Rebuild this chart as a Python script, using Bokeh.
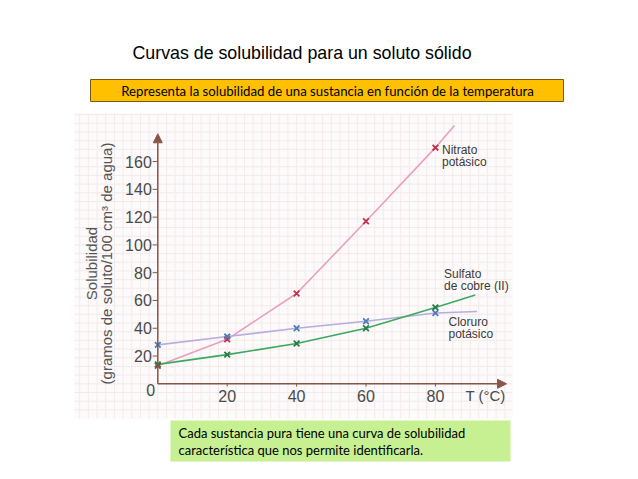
import numpy as np
from bokeh.plotting import figure
from bokeh.models import Range1d, Arrow, NormalHead
from bokeh.core.properties import value
from bokeh.embed import file_html
from bokeh.resources import INLINE

# ---------------- data ----------------
temps = [0, 20, 40, 60, 80]
nitrato = [13, 32, 65, 117, 170]
cloruro = [28, 34, 40, 45, 51]
sulfato = [14, 21, 29, 40, 55]
# drawn curves (the curves continue a little past the last measured point)
nitrato_curve_x = [0, 20, 40, 60, 80, 85.5]
nitrato_curve_y = [13, 32, 65, 117, 170, 186]
cloruro_curve_x = [0, 20, 40, 60, 80, 92]
cloruro_curve_y = [28, 34, 40, 45, 51, 52]
sulfato_curve_x = [0, 20, 40, 60, 80, 91.5]
sulfato_curve_y = [14, 21, 29, 40, 55, 64]
y_ticks = [20, 40, 60, 80, 100, 120, 140, 160]
x_ticks = [20, 40, 60, 80]

# ---------------- layout helpers (pixel -> data) ----------------
W, H = 638, 479
OX, OY = 157.3, 383.3          # pixel position of the origin
PPX, PPY = 3.47, 1.389         # pixels per data unit


def dx(px):
    return (px - OX) / PPX


def dy(py):
    return (OY - py) / PPY


p = figure(width=W, height=H, x_range=Range1d(dx(0), dx(W)), y_range=Range1d(dy(H), dy(0)),
           x_axis_type=None, y_axis_type=None, toolbar_location=None,
           output_backend="svg", min_border=0)
p.grid.visible = False
p.outline_line_color = None
p.background_fill_color = "white"
p.border_fill_color = "white"

SANS = value("Liberation Sans")
CAL = value("Lato")

# title
p.text(x=[dx(301.5)], y=[dy(52)], text=["Curvas de solubilidad para un soluto sólido"],
       text_font=SANS, text_font_size="17.8px", text_align="center", text_baseline="middle",
       text_color="black")

# yellow banner
p.quad(left=[dx(90)], right=[dx(563)], top=[dy(79)], bottom=[dy(101)],
       fill_color="#ffc000", line_color="#7a5a10", line_width=1)
p.text(x=[dx(327)], y=[dy(90.5)],
       text=["Representa la solubilidad de una sustancia en función de la temperatura"],
       text_font=CAL, text_font_size="13.2px", text_align="center", text_baseline="middle",
       text_color="black")

# picture area with graph-paper grid
p.quad(left=[dx(74)], right=[dx(512)], top=[dy(113)], bottom=[dy(418)],
       fill_color="#fcfafa", line_color=None)
gx = np.arange(-22.5, dx(512), 2.5)
gy = np.arange(-18.75, dy(113), 6.25)
p.segment(x0=gx, x1=gx, y0=dy(113), y1=dy(418), line_color="#f5eaea", line_width=1)
p.segment(x0=dx(74), x1=dx(512), y0=gy, y1=gy, line_color="#f5eaea", line_width=1)

# axes
AX = "#8a5548"
p.add_layout(Arrow(x_start=0, y_start=0, x_end=0, y_end=180, line_color=AX, line_width=1.5,
                   end=NormalHead(size=9, fill_color=AX, line_color=AX)))
p.add_layout(Arrow(x_start=0, y_start=0, x_end=100.5, y_end=0, line_color=AX, line_width=1.5,
                   end=NormalHead(size=9, fill_color=AX, line_color=AX)))
p.segment(x0=-1.5, x1=0, y0=y_ticks, y1=y_ticks, line_color=AX, line_width=1)
p.segment(x0=x_ticks, x1=x_ticks, y0=0, y1=-2, line_color=AX, line_width=1)

TICK_C = "#4a4a4a"
p.text(x=0, y=y_ticks, text=[str(v) for v in y_ticks], x_offset=-6,
       text_font=SANS, text_font_size="16px", text_align="right", text_baseline="middle",
       text_color=TICK_C)
p.text(x=x_ticks, y=0, text=[str(v) for v in x_ticks], y_offset=12,
       text_font=SANS, text_font_size="16px", text_align="center", text_baseline="middle",
       text_color=TICK_C)
p.text(x=[0], y=[0], text=["0"], x_offset=-7, y_offset=6,
       text_font=SANS, text_font_size="16px", text_align="center", text_baseline="middle",
       text_color=TICK_C)
p.text(x=[dx(485)], y=[0], text=["T (°C)"], y_offset=12,
       text_font=SANS, text_font_size="15px", text_align="center", text_baseline="middle",
       text_color=TICK_C)

# y axis title
p.text(x=[dx(91)], y=[dy(263)], text=["Solubilidad"], angle=np.pi / 2,
       text_font=SANS, text_font_size="15px", text_align="center", text_baseline="middle",
       text_color="#555555")
p.text(x=[dx(106)], y=[dy(263)], text=["(gramos de soluto/100 cm³ de agua)"], angle=np.pi / 2,
       text_font=SANS, text_font_size="15px", text_align="center", text_baseline="middle",
       text_color="#555555")

# curves
p.line(nitrato_curve_x, nitrato_curve_y, line_color="#e8a0bc", line_width=1.6)
p.line(cloruro_curve_x, cloruro_curve_y, line_color="#b6addf", line_width=1.6)
p.line(sulfato_curve_x, sulfato_curve_y, line_color="#3fa860", line_width=1.6)

p.scatter(temps, nitrato, marker="x", size=8, line_color="#c4304c", line_width=1.8)
p.scatter(temps, cloruro, marker="x", size=8, line_color="#4a7db8", line_width=1.8)
p.scatter(temps, sulfato, marker="x", size=8, line_color="#2a7a48", line_width=1.8)

# series labels
LAB_C = "#3a3a3a"
for lines, px, py in [(["Nitrato", "potásico"], 441.5, 149),
                      (["Sulfato", "de cobre (II)"], 443.5, 273),
                      (["Cloruro", "potásico"], 448, 321)]:
    p.text(x=[dx(px)] * 2, y=[dy(py), dy(py + 12.5)], text=lines,
           text_font=SANS, text_font_size="12px", text_align="left", text_baseline="middle",
           text_color=LAB_C)

# green note box
p.quad(left=[dx(170)], right=[dx(510)], top=[dy(420)], bottom=[dy(461)],
       fill_color="#c6f091", line_color=None)
p.text(x=[dx(178)] * 2, y=[dy(432), dy(449)],
       text=["Cada sustancia pura tiene una curva de solubilidad",
             "característica que nos permite identificarla."],
       text_font=CAL, text_font_size="13px", text_align="left", text_baseline="middle",
       text_color="black")

open("out.html", "w").write(file_html(p, INLINE))
